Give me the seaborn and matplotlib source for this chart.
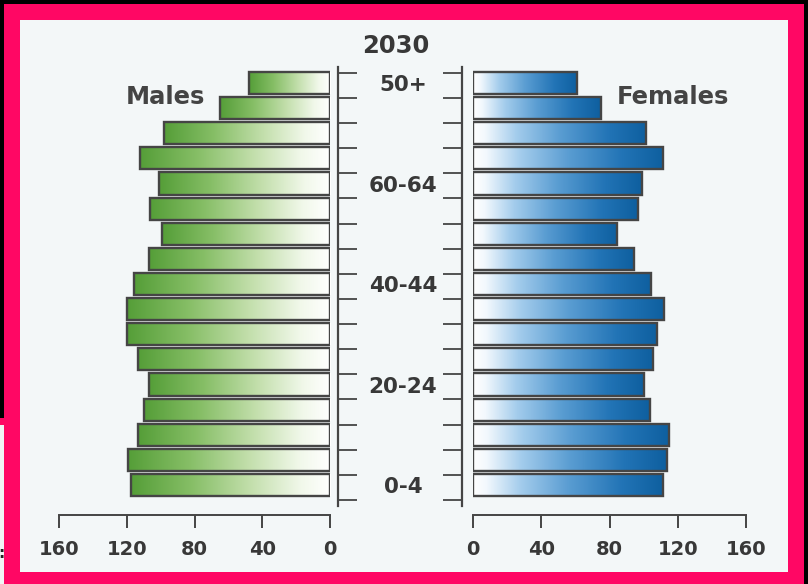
import numpy as np
import pandas as pd
import matplotlib
matplotlib.use("Agg")
import matplotlib.pyplot as plt
from matplotlib.patches import Rectangle
from matplotlib.colors import LinearSegmentedColormap
import seaborn as sns

# Population by five-year age group, bottom (0-4) to top (oldest), thousands
age_groups = ["0-4", "5-9", "10-14", "15-19", "20-24", "25-29", "30-34", "35-39",
              "40-44", "45-49", "50-54", "55-59", "60-64", "65-69", "70-74",
              "75-79", "80+"]
males = [117.5, 119, 113.5, 110, 107, 113.5, 120, 120, 116, 107, 99, 106,
         101, 112, 98, 65, 48]
females = [111.5, 113.5, 115, 103.5, 100.5, 105.5, 108, 112, 104.5, 94.5,
           84.5, 96.5, 99, 111.5, 101.5, 75, 61]
# Labels printed on the central age scale (empty = unlabelled row)
center_labels = ["0-4", "", "", "", "20-24", "", "", "", "40-44", "", "", "",
                 "60-64", "", "", "", "50+"]
x_ticks = [0, 40, 80, 120, 160]
title = "2030"

W, H = 808, 584
TXT = "#383838"
EDGE = "#454545"

sns.set_style("white")
plt.rcParams["font.family"] = ["DejaVu Sans"]
plt.rcParams["font.weight"] = "bold"

df = pd.DataFrame({"age": age_groups, "males": males, "females": females})
order = age_groups[::-1]  # oldest group at the top


def rect(x0, y0, x1, y1):
    """Axes rectangle from pixel box (top-left origin)."""
    return [x0 / W, 1 - y1 / H, (x1 - x0) / W, (y1 - y0) / H]


fig = plt.figure(figsize=(W / 100, H / 100), dpi=100)
fig.patch.set_facecolor("black")

# Frame: magenta border and pale page
pink = "#FF0764"
for (x0, y0, x1, y1, c) in [(4, 4, 804, 584, pink), (0, 418, 4, 425, pink),
                            (0, 425, 4, 584, "#F1F4F4"),
                            (20, 20, 788, 572, "#F3F7F8")]:
    fig.add_artist(Rectangle((x0 / W, 1 - y1 / H), (x1 - x0) / W, (y1 - y0) / H,
                             transform=fig.transFigure, facecolor=c,
                             edgecolor="none", zorder=0))
fig.text(1.5 / W, 1 - 553 / H, ":", fontsize=11, color="#222222",
         ha="center", va="center")

ax_m = fig.add_axes(rect(59, 70.4, 330, 497.6))
ax_f = fig.add_axes(rect(473, 70.4, 746, 497.6))
ax_c = fig.add_axes(rect(337.5, 66.7, 462, 505.7))

sns.barplot(data=df, x="males", y="age", order=order, orient="h", ax=ax_m,
            width=0.88, color="white", edgecolor=EDGE, linewidth=1.7)
sns.barplot(data=df, x="females", y="age", order=order, orient="h", ax=ax_f,
            width=0.88, color="white", edgecolor=EDGE, linewidth=1.7)

green = LinearSegmentedColormap.from_list(
    "grn", [(0.0, "#559E38"), (0.3, "#86BE66"), (0.6, "#C3DFAC"),
            (0.85, "#F1F8EA"), (1.0, "#FFFFFF")])
blue = LinearSegmentedColormap.from_list(
    "blu", [(0.0, "#FFFFFF"), (0.07, "#F2F8FD"), (0.25, "#A3CCEC"),
            (0.5, "#5A9DD2"), (0.78, "#2274B6"), (1.0, "#0E5F9F")])
grad = np.linspace(0, 1, 256)[None, :]


def fill_gradient(ax, cmap, from_value_end):
    for p in ax.patches:
        x0, y0 = p.get_x(), p.get_y()
        w, h = p.get_width(), p.get_height()
        if from_value_end:
            extent = (x0 + w, x0, y0 + h, y0)
        else:
            extent = (x0, x0 + w, y0 + h, y0)
        im = ax.imshow(grad, cmap=cmap, extent=extent, aspect="auto",
                       interpolation="bilinear", zorder=1)
        im.set_clip_path(p)
        p.set_facecolor("none")
        p.set_zorder(2)


fill_gradient(ax_m, green, True)
fill_gradient(ax_f, blue, False)

n = len(age_groups)
for ax, lim in [(ax_m, (160, 0)), (ax_f, (0, 160))]:
    ax.set_xlim(*lim)
    ax.set_ylim(n - 0.5, -0.5)
    ax.set_facecolor("none")
    ax.set_xlabel("")
    ax.set_ylabel("")
    ax.set_yticks([])
    for s in ["top", "left", "right"]:
        ax.spines[s].set_visible(False)
    sp = ax.spines["bottom"]
    sp.set_position(("outward", 12.5))
    sp.set_color(EDGE)
    sp.set_linewidth(1.4)
    ax.set_xticks(x_ticks)
    ax.set_xticklabels([str(t) for t in x_ticks])
    ax.tick_params(axis="x", bottom=True, direction="out", length=9.4,
                   width=1.4, color=EDGE, pad=8.5, labelsize=14,
                   labelcolor=TXT)
    for lab in ax.get_xticklabels():
        lab.set_fontweight("bold")

# Central age scale with row-boundary ticks on both sides
ax_c.set_facecolor("none")
ax_c.set_xlim(0, 1)
ax_c.set_ylim(n - 0.5 + 0.227, -0.5 - 0.239)
ax_c.set_xticks([])
ax_c.set_yticks(np.arange(-0.5, n, 1.0))
ax_c.tick_params(axis="y", direction="in", length=13.7, width=1.3, color=EDGE,
                 left=True, right=True, labelleft=False, labelright=False)
for s in ["top", "bottom"]:
    ax_c.spines[s].set_visible(False)
for s in ["left", "right"]:
    ax_c.spines[s].set_color(EDGE)
    ax_c.spines[s].set_linewidth(1.6)
for i, lab in enumerate(center_labels):
    if lab:
        ax_c.text(0.525, n - 1 - i, lab, ha="center", va="center",
                  fontsize=15.5, fontweight="bold", color=TXT)

fig.text(396 / W, 1 - 46 / H, title, ha="center", va="center",
         fontsize=17.5, fontweight="bold", color=TXT)
fig.text(165.5 / W, 1 - 96.5 / H, "Males", ha="center", va="center",
         fontsize=17.5, fontweight="bold", color="#444444")
fig.text(672.5 / W, 1 - 96.5 / H, "Females", ha="center", va="center",
         fontsize=17.5, fontweight="bold", color="#444444")

fig.savefig("out.png", dpi=100, facecolor=fig.get_facecolor())
